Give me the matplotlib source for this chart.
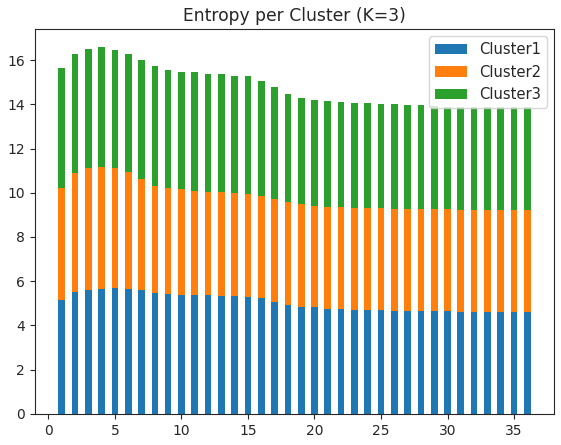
import numpy as np
import matplotlib
matplotlib.use("Agg")
import matplotlib.pyplot as plt

# totals (top of each stacked segment)
clusters = list(range(1, 37))
top1 = [5.17, 5.50, 5.59, 5.66, 5.69, 5.66, 5.60, 5.47, 5.41, 5.36,
        5.36, 5.36, 5.32, 5.32, 5.29, 5.24, 5.06, 4.91, 4.82, 4.82,
        4.76, 4.76, 4.71, 4.71, 4.71, 4.67, 4.67, 4.67, 4.67, 4.67,
        4.61, 4.61, 4.61, 4.61, 4.61, 4.61]
top2 = [10.21, 10.89, 11.11, 11.17, 11.11, 10.95, 10.62, 10.32, 10.20, 10.15,
        10.09, 10.05, 10.03, 10.00, 9.94, 9.84, 9.70, 9.56, 9.47, 9.41,
        9.37, 9.37, 9.32, 9.32, 9.32, 9.28, 9.28, 9.28, 9.28, 9.28,
        9.23, 9.23, 9.23, 9.23, 9.23, 9.23]
top3 = [15.62, 16.28, 16.52, 16.58, 16.47, 16.28, 15.99, 15.72, 15.57, 15.48,
        15.44, 15.39, 15.35, 15.30, 15.26, 15.06, 14.77, 14.46, 14.29, 14.20,
        14.16, 14.11, 14.07, 14.07, 14.02, 14.02, 13.99, 13.96, 13.92, 13.88,
        13.87, 13.86, 13.86, 13.86, 13.86, 13.86]

ent1 = np.array(top1)
ent2 = np.array(top2) - ent1
ent3 = np.array(top3) - np.array(top2)

plt.rcParams["text.color"] = ".15"
plt.rcParams["axes.labelcolor"] = ".15"
plt.rcParams["xtick.color"] = ".15"
plt.rcParams["ytick.color"] = ".15"
plt.rcParams["axes.edgecolor"] = ".15"

fig, ax = plt.subplots(figsize=(5.61, 4.45), dpi=100)
fig.subplots_adjust(left=0.062, right=0.988, bottom=0.07, top=0.935)

ax.bar(clusters, ent1, width=0.5, label="Cluster1")
ax.bar(clusters, ent2, width=0.5, bottom=ent1, label="Cluster2")
ax.bar(clusters, ent3, width=0.5, bottom=ent1 + ent2, label="Cluster3")

ax.set_title("Entropy per Cluster (K=3)", fontsize=12.3)
ax.legend(fontsize=10.6, handlelength=2.2)

fig.savefig("out.png")
